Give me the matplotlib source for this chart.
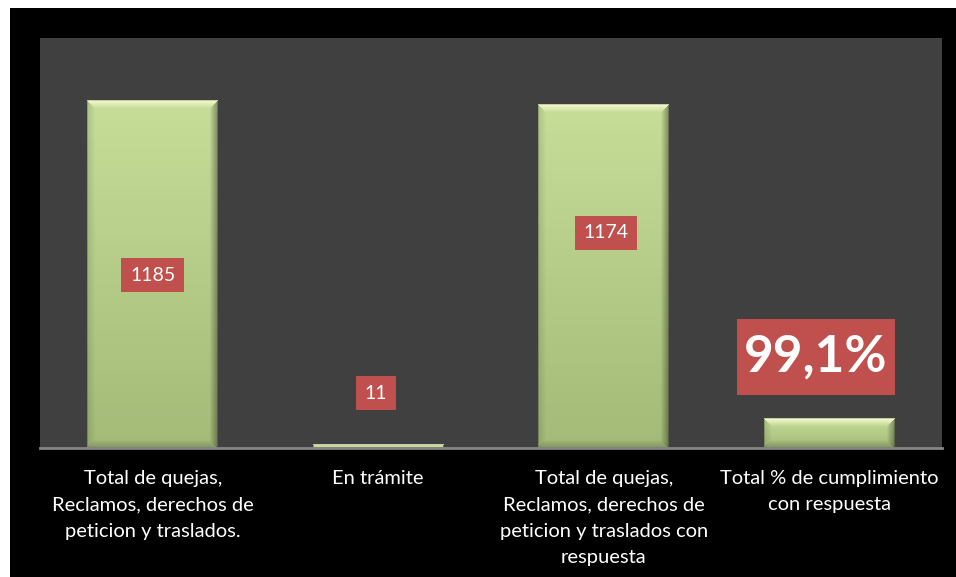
import numpy as np
import matplotlib
matplotlib.use("Agg")
import matplotlib.pyplot as plt
from matplotlib.patches import Rectangle

plt.rcParams['font.family'] = ['Lato', 'DejaVu Sans']

categories = [
    "Total de quejas,\nReclamos, derechos de\npeticion y traslados.",
    "En trámite",
    "Total de quejas,\nReclamos, derechos de\npeticion y traslados con\nrespuesta",
    "Total % de cumplimiento\ncon respuesta",
]
values = [1185, 11, 1174, 99.1]
value_labels = ["1185", "11", "1174", "99,1%"]

# where each value label sits - placed by hand in the original
label_dx = [0, -0.01, 0.01, -0.06]
label_y = [590, 187, 735, 310]
label_big = [False, False, False, True]

W, H, DPI = 956, 577, 100
fig = plt.figure(figsize=(W / DPI, H / DPI), dpi=DPI, facecolor="white")
fig.patches.append(Rectangle((10 / W, 0), 1 - 10 / W, 1 - 8 / H, transform=fig.transFigure,
                             facecolor="black", edgecolor="none", zorder=-10))

ax = fig.add_axes([40 / W, (H - 448) / H, (942 - 40) / W, (448 - 38) / H])
ax.set_facecolor("#404040")
ax.set_ylim(0, 1400)
ax.set_xlim(-0.5, len(values) - 0.5)

x = np.arange(len(values))
bars = ax.bar(x, values, width=0.58, color="#c3d998", zorder=2)


def bevel_image(wpx, hpx, b=8):
    hpx = max(hpx, 2)
    yy, xx = np.mgrid[0:hpx, 0:wpx].astype(float)
    t = yy / max(hpx - 1, 1)
    top = np.array([0.78, 0.87, 0.60])
    bot = np.array([0.64, 0.73, 0.47])
    img = top[None, None, :] * (1 - t[..., None]) + bot[None, None, :] * t[..., None]
    dt, db = yy, hpx - 1 - yy
    dl, dr = xx, wpx - 1 - xx
    bb = min(b, hpx / 2)
    m = np.minimum(np.minimum(dt, db), np.minimum(dl, dr))
    light = np.array([0.97, 0.99, 0.82])
    # top bevel: light
    sel = (dt <= m) & (dt < bb)
    f = (1 - dt / bb) * 0.9
    img = np.where(sel[..., None], img * (1 - f[..., None]) + light * f[..., None], img)
    # left bevel: slight dark
    sel = (dl <= m) & (dl < bb) & ~(dt <= m)
    f = (1 - dl / bb) * 0.12
    img = np.where(sel[..., None], img * (1 - f[..., None]), img)
    # right bevel: darker
    sel = (dr <= m) & (dr < bb) & ~(dt <= m)
    f = (1 - dr / bb) * 0.35
    img = np.where(sel[..., None], img * (1 - f[..., None]), img)
    # bottom bevel
    sel = (db <= m) & (db < bb) & ~(dt <= m)
    f = (1 - db / bb) * 0.2
    img = np.where(sel[..., None], img * (1 - f[..., None]), img)
    # thin outline
    edge = (m < 1)
    img = np.where(edge[..., None], img * 0.82, img)
    return np.clip(img, 0, 1)


fig.canvas.draw()
for bar in bars:
    x0, y0 = bar.get_x(), bar.get_y()
    x1, y1 = x0 + bar.get_width(), y0 + bar.get_height()
    p0 = ax.transData.transform((x0, y0))
    p1 = ax.transData.transform((x1, y1))
    wpx = int(round(p1[0] - p0[0]))
    hpx = int(round(p1[1] - p0[1]))
    ax.imshow(bevel_image(wpx, hpx), extent=(x0, x1, y0, y1), aspect="auto",
              interpolation="nearest", zorder=3)
ax.set_xlim(-0.5, len(values) - 0.5)
ax.set_ylim(0, 1400)

for xi, dx, txt, ly, big in zip(x, label_dx, value_labels, label_y, label_big):
    if big:
        ax.text(xi + dx, ly, txt, ha="center", va="center", color="white", fontsize=37,
                fontweight="bold", zorder=5,
                bbox=dict(boxstyle="square,pad=0.14", mutation_aspect=2.0,
                          facecolor="#c0504d", edgecolor="none"))
    else:
        ax.text(xi + dx, ly, txt, ha="center", va="center", color="white", fontsize=14, zorder=5,
                bbox=dict(boxstyle="square,pad=0.45", facecolor="#c0504d", edgecolor="none"))

for s in ["top", "left", "right"]:
    ax.spines[s].set_visible(False)
ax.spines["bottom"].set_color("#868686")
ax.spines["bottom"].set_linewidth(2)
ax.spines["bottom"].set_zorder(4)
ax.set_yticks([])
ax.set_xticks(x)
ax.set_xticklabels(categories, color="white", fontsize=14.5, linespacing=1.66, va="top")
ax.tick_params(axis="x", length=0, pad=16)

fig.savefig("out.png", dpi=DPI, facecolor=fig.get_facecolor())
